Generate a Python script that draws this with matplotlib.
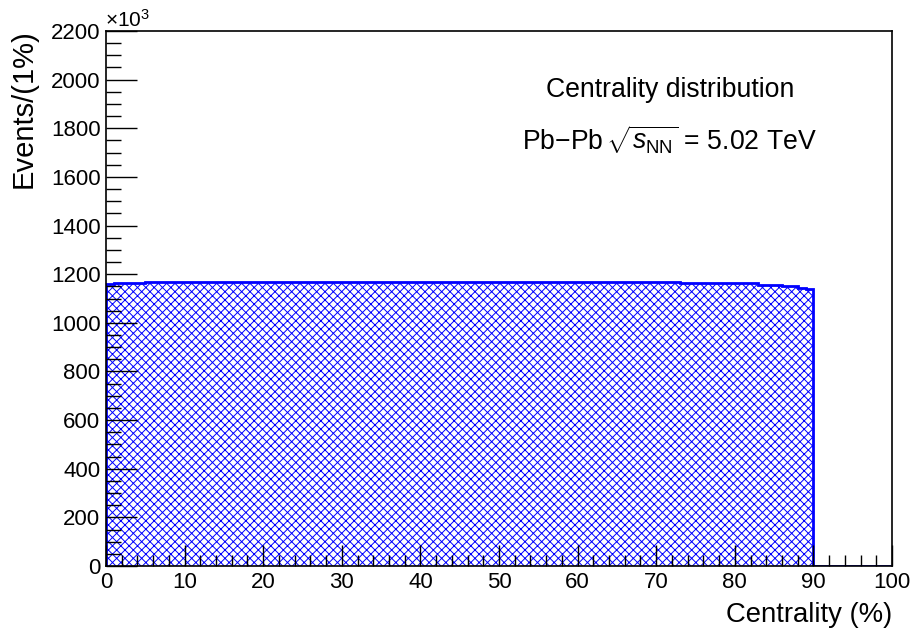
import numpy as np
import matplotlib
matplotlib.use("Agg")
import matplotlib.pyplot as plt
from matplotlib.ticker import MultipleLocator, FuncFormatter

plt.rcParams['font.family'] = ['Liberation Sans', 'DejaVu Sans']
plt.rcParams['mathtext.fontset'] = 'custom'
plt.rcParams['mathtext.rm'] = 'Liberation Sans'
plt.rcParams['mathtext.it'] = 'Liberation Sans:italic'
plt.rcParams['mathtext.bf'] = 'Liberation Sans:bold'
plt.rcParams['hatch.linewidth'] = 0.7

# Data (events per 1% centrality bin, in units of 10^3)
bin_edges = list(range(0, 101))
counts = ([1160] + [1163] * 4 + [1167] * 51 + [1166] * 17 + [1165] * 6 +
          [1162] * 4 + [1157] * 3 + [1150] * 2 + [1144, 1138] + [0] * 10)

title_text = "Centrality distribution"
system_text = r"Pb$-$Pb$\,\sqrt{s_{\mathrm{NN}}}$ = 5.02 TeV"
xlabel = "Centrality (%)"
ylabel = "Events/(1%)"

fig = plt.figure(figsize=(9.11, 6.39), dpi=100)
W, H = 911, 639
ax = fig.add_axes([106 / W, 1 - 566 / H, (892 - 106) / W, (566 - 31) / H])

edges = np.array(bin_edges, dtype=float)
vals = np.array(counts, dtype=float)

ax.stairs(vals, edges, fill=True, facecolor='none', edgecolor='#0000ff',
          hatch='xxxx', linewidth=0)
ax.stairs(vals, edges, baseline=0, fill=False, edgecolor='#0000ff', linewidth=2)

ax.set_xlim(0, 100)
ax.set_ylim(0, 2200)

ax.xaxis.set_major_locator(MultipleLocator(10))
ax.xaxis.set_minor_locator(MultipleLocator(2))
ax.yaxis.set_major_locator(MultipleLocator(200))
ax.yaxis.set_minor_locator(MultipleLocator(50))
ax.xaxis.set_major_formatter(FuncFormatter(lambda v, p: f"{int(round(v))}"))
ax.yaxis.set_major_formatter(FuncFormatter(lambda v, p: f"{int(round(v))}"))

ax.tick_params(axis='x', which='major', direction='in', length=15, width=1, labelsize=16, pad=4.5)
ax.tick_params(axis='x', which='minor', direction='in', length=8, width=1)
ax.tick_params(axis='y', which='major', direction='in', length=22, width=1, labelsize=16, pad=4)
ax.tick_params(axis='y', which='minor', direction='in', length=11, width=1)
for s in ax.spines.values():
    s.set_linewidth(1.2)

fig.text(892 / W, 1 - 615 / H, xlabel, ha='right', va='center', fontsize=19.8)
fig.text(24 / W, 1 - 29 / H, ylabel, ha='center', va='top', rotation=90, fontsize=21)
fig.text(105 / W, 1 - 27 / H, r"$\times 10^{3}$", ha='left', va='baseline', fontsize=15)

fig.text(670 / W, 1 - 90 / H, title_text, ha='center', va='center', fontsize=19.2)
fig.text(669 / W, 1 - 140 / H, system_text, ha='center', va='center', fontsize=19.2)

fig.savefig("out.png", dpi=100)
